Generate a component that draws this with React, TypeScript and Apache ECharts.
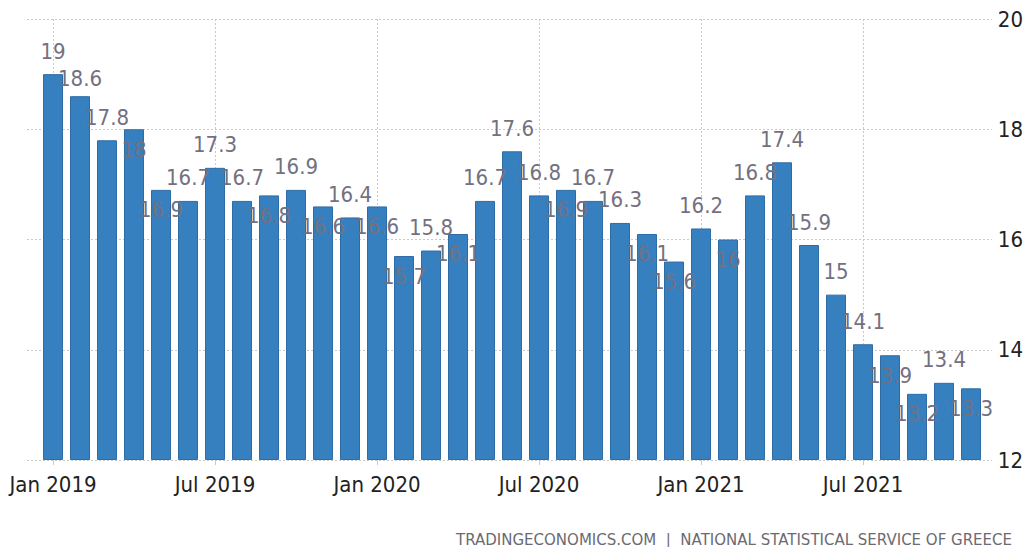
import React, { useEffect, useRef } from "react";
import * as echarts from "echarts";

const months: string[] = [
  "Jan 2019", "Feb 2019", "Mar 2019", "Apr 2019", "May 2019", "Jun 2019",
  "Jul 2019", "Aug 2019", "Sep 2019", "Oct 2019", "Nov 2019", "Dec 2019",
  "Jan 2020", "Feb 2020", "Mar 2020", "Apr 2020", "May 2020", "Jun 2020",
  "Jul 2020", "Aug 2020", "Sep 2020", "Oct 2020", "Nov 2020", "Dec 2020",
  "Jan 2021", "Feb 2021", "Mar 2021", "Apr 2021", "May 2021", "Jun 2021",
  "Jul 2021", "Aug 2021", "Sep 2021", "Oct 2021", "Nov 2021",
];

const values: number[] = [
  19, 18.6, 17.8, 18, 16.9, 16.7, 17.3, 16.7, 16.8, 16.9, 16.6, 16.4,
  16.6, 15.7, 15.8, 16.1, 16.7, 17.6, 16.8, 16.9, 16.7, 16.3, 16.1, 15.6,
  16.2, 16, 16.8, 17.4, 15.9, 15, 14.1, 13.9, 13.2, 13.4, 13.3,
];

// "a" = label above the bar, "b" = label just below the bar's top
const labelSides: string[] = [
  "a", "a", "a", "b", "b", "a", "a", "a", "b", "a", "b", "a",
  "b", "b", "a", "b", "a", "a", "a", "b", "a", "a", "b", "b",
  "a", "b", "a", "a", "a", "a", "a", "b", "b", "a", "b",
];

const xTickLabels: string[] = ["Jan 2019", "Jul 2019", "Jan 2020", "Jul 2020", "Jan 2021", "Jul 2021"];
const yTicks: number[] = [12, 14, 16, 18, 20];

const source = "TRADINGECONOMICS.COM  |  NATIONAL STATISTICAL SERVICE OF GREECE";

const FONT = "'DejaVu Sans Condensed', 'DejaVu Sans', sans-serif";

export default function App() {
  const ref = useRef<HTMLDivElement>(null);

  useEffect(() => {
    if (!ref.current) return;
    const chart = echarts.init(ref.current, undefined, { renderer: "svg" });
    const grid = { color: "#c9c9c9", type: [2, 2] as any, width: 1 };

    const data = values.map((v, i) => ({
      value: [i, v],
      name: months[i],
      label:
        labelSides[i] === "a"
          ? { position: "top", distance: i === 1 ? 7 : 12 }
          : { position: "insideTop", distance: 9 },
    }));

    chart.setOption({
      animation: false,
      backgroundColor: "#ffffff",
      grid: [
        { left: 27, right: 34, top: 19, bottom: 87 },
        { left: 53, right: 163, top: 19, bottom: 87 },
      ],
      xAxis: [
        { type: "value", gridIndex: 0, min: 0, max: 1, show: false },
        {
          type: "value",
          gridIndex: 1,
          min: 0,
          max: 30,
          interval: 6,
          axisLine: { show: false },
          axisTick: { show: true, length: 5, lineStyle: { color: "#c9c9c9" } },
          splitLine: { show: true, lineStyle: grid },
          axisLabel: {
            margin: 13,
            color: "#222222",
            fontSize: 22,
            fontFamily: FONT,
            formatter: (v: number) => xTickLabels[Math.round(v / 6)] ?? "",
          },
        },
      ],
      yAxis: [
        {
          type: "value",
          gridIndex: 0,
          position: "right",
          min: yTicks[0],
          max: yTicks[yTicks.length - 1],
          interval: 2,
          axisLine: { show: false },
          axisTick: { show: false },
          splitLine: { show: true, lineStyle: grid },
          axisLabel: {
            margin: 6,
            color: "#222222",
            fontSize: 22,
            fontFamily: FONT,
          },
        },
        {
          type: "value",
          gridIndex: 1,
          min: yTicks[0],
          max: yTicks[yTicks.length - 1],
          startValue: yTicks[0],
          show: false,
          splitLine: { show: false },
        },
      ],
      series: [
        {
          type: "bar",
          xAxisIndex: 1,
          yAxisIndex: 1,
          barWidth: 20,
          clip: false,
          itemStyle: { color: "#3780c0", borderColor: "#2e6ca6", borderWidth: 1 },
          label: {
            show: true,
            color: "#73707f",
            fontSize: 22,
            fontFamily: FONT,
            formatter: (p: any) => String(p.value[1]),
          },
          data,
        },
      ],
      graphic: [
        {
          type: "text",
          right: 14,
          top: 532,
          style: {
            text: source,
            fill: "#6c6a72",
            fontSize: 15,
            fontFamily: "'DejaVu Sans', sans-serif",
          },
        },
      ],
    });
    return () => chart.dispose();
  }, []);

  return (
    <div
      ref={ref}
      style={{ position: "fixed", left: 0, top: 0, width: 1026, height: 547 }}
    />
  );
}
